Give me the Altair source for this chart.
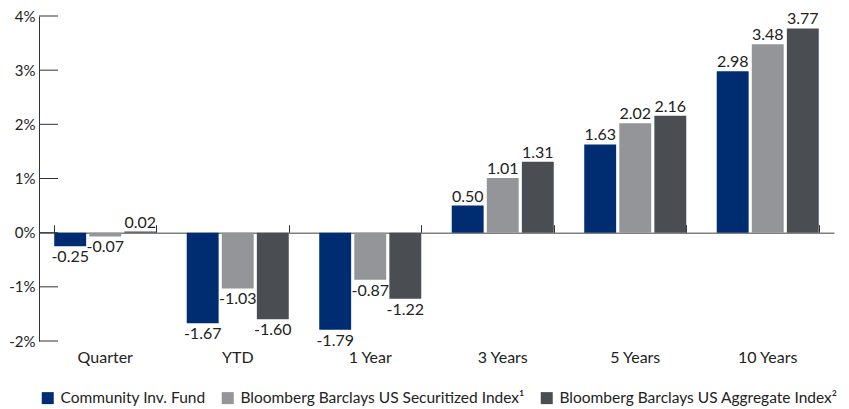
import altair as alt
import pandas as pd

periods = ["Quarter", "YTD", "1 Year", "3 Years", "5 Years", "10 Years"]
series = [
    "Community Inv. Fund",
    "Bloomberg Barclays US Securitized Index¹",
    "Bloomberg Barclays US Aggregate Index²",
]
fund = [-0.25, -1.67, -1.79, 0.50, 1.63, 2.98]
securitized = [-0.07, -1.03, -0.87, 1.01, 2.02, 3.48]
aggregate = [0.02, -1.60, -1.22, 1.31, 2.16, 3.77]
colors = ["#002D72", "#939598", "#4A4E53"]
y_ticks = [-2, -1, 0, 1, 2, 3, 4]

rows = []
for s, vals in zip(series, [fund, securitized, aggregate]):
    for p, v in zip(periods, vals):
        rows.append({"period": p, "series": s, "value": v, "label": f"{v:.2f}"})
df = pd.DataFrame(rows)
ticks_df = pd.DataFrame({"value": y_ticks})

FONT = "Lato"
FS = 16

yscale = alt.Scale(domain=[-2, 4], nice=False, zero=False)
xscale = alt.Scale(paddingInner=0.23, paddingOuter=0.115)
offscale = alt.Scale(paddingInner=0.09, paddingOuter=0)

y_axis = alt.Axis(values=y_ticks, ticks=False, grid=False, domainColor="#333333",
                  domainWidth=1, labelExpr="datum.value + '%'", labelPadding=4,
                  labelFont=FONT, labelFontSize=15, labelColor="#222222")
y_enc = alt.Y("value:Q", scale=yscale, title=None, axis=y_axis)

x_bottom = alt.X(
    "period:N", sort=periods, scale=xscale, title=None,
    axis=alt.Axis(domain=False, ticks=False, labelAngle=0, labelPadding=8,
                  labelFont=FONT, labelFontSize=FS, labelColor="#222222"),
)
x_none = alt.X("period:N", sort=periods, scale=xscale, axis=None)
xoff = alt.XOffset("series:N", sort=series, scale=offscale)

bars = alt.Chart(df).mark_bar().encode(
    x=x_bottom,
    xOffset=xoff,
    y=y_enc,
    color=alt.Color("series:N", sort=series,
                    scale=alt.Scale(domain=series, range=colors),
                    legend=alt.Legend(title=None, orient="none", direction="horizontal",
                                      legendX=1, legendY=374, symbolType="square",
                                      symbolSize=144, symbolStrokeWidth=0,
                                      labelFont=FONT, labelFontSize=15.5, labelColor="#222222",
                                      labelOffset=5, columnPadding=14, padding=0,
                                      labelLimit=400)),
)

pos_text = alt.Chart(df).transform_filter("datum.value >= 0").mark_text(
    baseline="alphabetic", dy=-4, font=FONT, fontSize=FS, color="#222222"
).encode(
    x=x_none, xOffset=xoff, y=y_enc, text="label:N",
)
neg_text = alt.Chart(df).transform_filter("datum.value < 0").mark_text(
    baseline="top", dy=3, font=FONT, fontSize=FS, color="#222222"
).encode(
    x=x_none, xOffset=xoff, y=y_enc, text="label:N",
)

zero_axis = alt.Chart(df).mark_bar(opacity=0).encode(
    x=alt.X("period:N", sort=periods, scale=xscale, title=None,
            axis=alt.Axis(orient="top", offset=-216.7, labels=False, tickBand="extent",
                          tickSize=8, tickColor="#333333", domainColor="#808080",
                          domainWidth=1.5, tickWidth=1)),
    y=y_enc,
)

y_tick_rules = alt.Chart(ticks_df).mark_rule(color="#333333", strokeWidth=1).encode(
    y=y_enc,
    x=alt.value(0),
    x2=alt.value(19),
)

chart = alt.layer(zero_axis, bars, y_tick_rules, pos_text, neg_text).resolve_axis(
    x="independent"
).properties(
    width=795, height=325,
    autosize=alt.AutoSizeParams(type="none"),
    padding={"left": 31, "top": 8, "right": 7, "bottom": 66},
).configure_view(stroke=None)

chart.save("out.html", embed_options={"renderer": "svg", "actions": False})
